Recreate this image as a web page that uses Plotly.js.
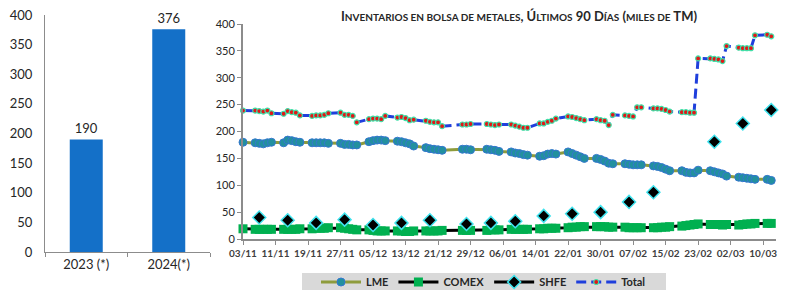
<!DOCTYPE html>
<html><head><meta charset="utf-8">
<script src="https://cdn.plot.ly/plotly-3.0.1.min.js"></script>
<style>html,body{margin:0;padding:0;background:#fff}#chart{width:787px;height:290px}</style>
</head><body><div id="chart"></div>
<script>
// ---- Left bar chart data ----
const barCategories = ['2023 (*)', '2024(*)'];
const barValues = [190, 376];

// ---- Right chart: weekday dates ----
const dates = [
 '2023-11-03',
 '2023-11-06','2023-11-07','2023-11-08','2023-11-09','2023-11-10',
 '2023-11-13','2023-11-14','2023-11-15','2023-11-16','2023-11-17',
 '2023-11-20','2023-11-21','2023-11-22','2023-11-23','2023-11-24',
 '2023-11-27','2023-11-28','2023-11-29','2023-11-30','2023-12-01',
 '2023-12-04','2023-12-05','2023-12-06','2023-12-07','2023-12-08',
 '2023-12-11','2023-12-12','2023-12-13','2023-12-14','2023-12-15',
 '2023-12-18','2023-12-19','2023-12-20','2023-12-21','2023-12-22',
 '2023-12-27','2023-12-28','2023-12-29',
 '2024-01-02','2024-01-03','2024-01-04','2024-01-05',
 '2024-01-08','2024-01-09','2024-01-10','2024-01-11','2024-01-12',
 '2024-01-15','2024-01-16','2024-01-17','2024-01-18','2024-01-19',
 '2024-01-22','2024-01-23','2024-01-24','2024-01-25','2024-01-26',
 '2024-01-29','2024-01-30','2024-01-31','2024-02-01','2024-02-02',
 '2024-02-05','2024-02-06','2024-02-07','2024-02-08','2024-02-09',
 '2024-02-12','2024-02-13','2024-02-14','2024-02-15','2024-02-16',
 '2024-02-19','2024-02-20','2024-02-21','2024-02-22','2024-02-23',
 '2024-02-26','2024-02-27','2024-02-28','2024-02-29','2024-03-01',
 '2024-03-04','2024-03-05','2024-03-06','2024-03-07','2024-03-08',
 '2024-03-11','2024-03-12'
];
const lme = [
 180,
 179,178,177,179,180,
 179,184,183,181,180,
 179,179,179,179,178,
 178,176,176,175,175,
 181,183,184,184,183,
 182,181,179,177,173,
 170,168,167,166,165,
 167,167,166,
 167,166,165,163,
 162,160,159,157,156,
 154,155,158,159,158,
 162,159,156,153,150,
 150,148,145,141,140,
 140,139,138,138,138,
 136,135,133,130,127,
 127,124,123,123,128,
 127,125,123,121,117,
 115,114,113,112,111,
 111,109
];
const comex = [
 19,
 18,18,18,18,18,
 18,18,18,18,19,
 19,20,20,20,21,
 21,20,19,18,17,
 17,16,15,15,15,
 15,15,14,14,15,
 15,15,15,15,16,
 16,16,16,
 16,17,17,17,
 18,18,18,18,18,
 19,19,20,20,20,
 21,22,22,23,23,
 23,23,23,22,22,
 22,21,21,21,21,
 21,21,22,22,23,
 24,25,26,27,28,
 27,27,27,26,27,
 26,27,28,28,29,
 29,29
];
const total = [
 239,
 239,238,237,239,234,
 233,238,236,235,230,
 229,230,230,231,234,
 235,231,231,229,217,
 223,224,224,223,229,
 226,227,225,221,222,
 220,218,217,217,210,
 213,213,214,
 214,213,212,213,
 213,211,209,207,207,
 215,215,218,220,224,
 228,227,225,223,221,
 223,221,220,212,231,
 230,229,228,245,245,
 243,243,242,240,237,
 236,236,235,235,336,
 336,335,334,331,359,
 356,355,355,355,379,
 380,377
];
const shfeDates = [
 '2023-11-07','2023-11-14','2023-11-21','2023-11-28','2023-12-05','2023-12-12',
 '2023-12-19','2023-12-28','2024-01-03','2024-01-09','2024-01-16','2024-01-23',
 '2024-01-30','2024-02-06','2024-02-12','2024-02-27','2024-03-05','2024-03-12'
];
const shfeValues = [40,35,30,36,26,30,35,28,30,33,43,47,50,69,87,181,215,240];

const SC = "<span style='font-size:10px'>";
const titleText = "<b>I" + SC + "NVENTARIOS EN BOLSA DE METALES</span>, Ú" + SC + "LTIMOS</span> 90 D" + SC + "ÍAS</span> (" + SC + "MILES DE</span> TM)</b>";

// SHFE aligned with the daily table (blank cells -> no connecting line, as in the source)
const shfeAligned = dates.map(d => { const i = shfeDates.indexOf(d); return i >= 0 ? shfeValues[i] : null; });

const W = 787, H = 290;
const FONT = 'Lato, "Open Sans", sans-serif';

const traces = [
 {type:'bar', x: barCategories, y: barValues, xaxis:'x', yaxis:'y',
  marker:{color:'#1470c8'}, text: barValues.map(String), textposition:'outside',
  textfont:{size:13, color:'#262626', family:FONT}, cliponaxis:false, showlegend:false, hoverinfo:'skip'},
 {type:'scatter', mode:'lines+markers', name:'LME', x: dates, y: lme, xaxis:'x2', yaxis:'y2',
  line:{color:'#8e9c3c', width:3}, marker:{symbol:'circle', size:8, color:'#22909f', line:{color:'#3577d0', width:1}}, cliponaxis:false},
 {type:'scatter', mode:'lines+markers', name:'COMEX', x: dates, y: comex, xaxis:'x2', yaxis:'y2',
  line:{color:'#000000', width:3}, marker:{symbol:'square', size:9, color:'#00b050', line:{color:'#00b050', width:0}}, cliponaxis:false},
 {type:'scatter', mode:'lines+markers', name:'SHFE', x: dates, y: shfeAligned, xaxis:'x2', yaxis:'y2', connectgaps:false,
  line:{color:'#000000', width:3}, marker:{symbol:'diamond', size:10, color:'#000000', line:{color:'#3fe3ee', width:1.5}}, cliponaxis:false},
 {type:'scatter', mode:'lines+markers', name:'Total', x: dates, y: total, xaxis:'x2', yaxis:'y2',
  line:{color:'#1f3fdc', width:3, dash:'10px,5px'}, marker:{symbol:'circle', size:5, color:'#e01818', line:{color:'#3fe0a8', width:1.2}}, cliponaxis:false}
];

const layout = {
 width: W, height: H,
 margin:{l:0, r:0, t:0, b:0, autoexpand:false},
 paper_bgcolor:'#ffffff', plot_bgcolor:'rgba(0,0,0,0)',
 font:{family:FONT, color:'#262626'},
 bargap: 0.6,
 title:{text:titleText, x:519/W, xanchor:'center', xref:'paper', y:1-16/H, yanchor:'middle', yref:'paper',
        font:{family:FONT, size:13, color:'#262626'}},
 shapes:[{type:'rect', xref:'paper', yref:'paper', x0:302/W, x1:666/W, y0:0, y1:17/H,
          fillcolor:'#d9d9d9', line:{width:0}, layer:'below'}],
 xaxis:{domain:[45/W, 210/W], type:'category', showline:true, linecolor:'#8c8c8c', linewidth:1,
        ticks:'outside', tickson:'boundaries', ticklen:4, tickcolor:'#8c8c8c',
        tickfont:{size:13, color:'#262626', family:FONT}, showgrid:false, zeroline:false, automargin:false, fixedrange:true},
 yaxis:{domain:[38/H, 275/H], range:[0,400], dtick:50, showline:true, linecolor:'#8c8c8c', linewidth:1,
        ticks:'outside', ticklen:9, tickcolor:'rgba(0,0,0,0)', tickfont:{size:13, color:'#262626', family:FONT},
        showgrid:false, zeroline:false, automargin:false, fixedrange:true},
 xaxis2:{domain:[243/W, 776/W], anchor:'y2', type:'date', range:['2023-11-03', '2024-03-13 04:00'],
        tick0:'2023-11-03', dtick: 8*86400000, tickformat:'%d/%m',
        showline:true, linecolor:'#8c8c8c', linewidth:2, ticks:'outside', ticklen:4, tickcolor:'#8c8c8c',
        tickfont:{size:10, color:'#404040', family:FONT, weight:700}, showgrid:false, zeroline:false, automargin:false, fixedrange:true},
 yaxis2:{domain:[51/H, 266/H], anchor:'x2', range:[0,400], dtick:50,
        showline:true, linecolor:'#8c8c8c', linewidth:2, ticks:'outside', ticklen:4, tickcolor:'#8c8c8c',
        tickfont:{size:11, color:'#262626', family:FONT}, showgrid:false, zeroline:false, automargin:false, fixedrange:true},
 showlegend:true,
 legend:{orientation:'h', x:316/W, xanchor:'left', y:8/H, yanchor:'middle', bgcolor:'rgba(0,0,0,0)',
         font:{size:11, color:'#262626', family:FONT, weight:700}, itemwidth:40, tracegroupgap:0}
};

Plotly.newPlot('chart', traces, layout, {displayModeBar:false, staticPlot:true});
</script>
</body></html>
